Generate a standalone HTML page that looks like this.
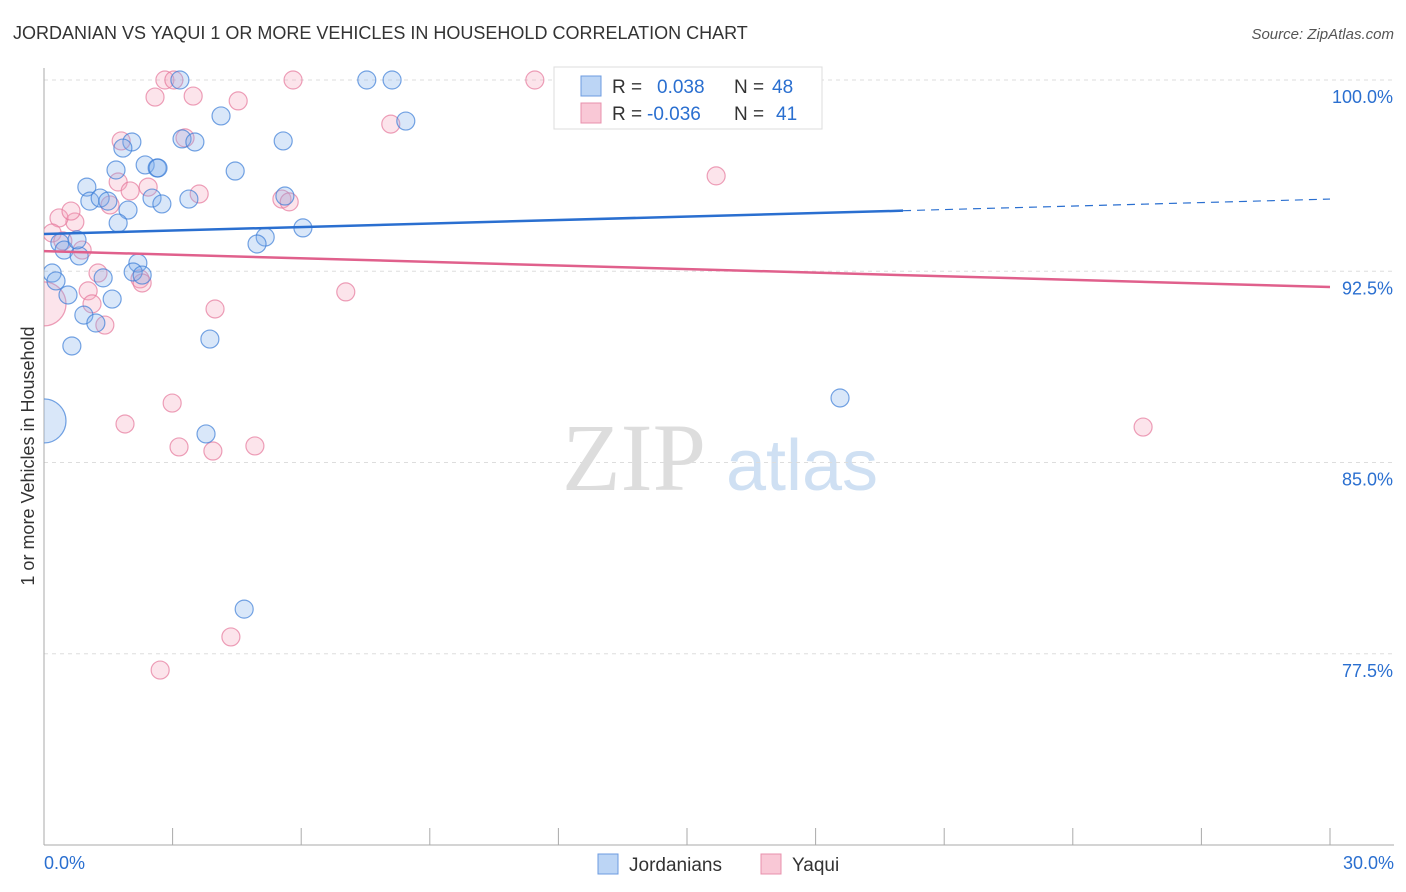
<!DOCTYPE html>
<html><head><meta charset="utf-8"><style>
body{margin:0;background:#fff;font-family:"Liberation Sans",sans-serif;}
svg{display:block}
</style></head><body>
<svg width="1406" height="892" xmlns="http://www.w3.org/2000/svg">
<defs><clipPath id="plotclip"><rect x="44" y="0" width="1362" height="845"/></clipPath></defs>
<text x="13" y="39" font-size="18" fill="#333">JORDANIAN VS YAQUI 1 OR MORE VEHICLES IN HOUSEHOLD CORRELATION CHART</text>
<text x="1394" y="39" font-size="15" fill="#555" font-style="italic" text-anchor="end">Source: ZipAtlas.com</text>
<text x="34" y="456" font-size="18" fill="#333" text-anchor="middle" transform="rotate(-90 34 456)">1 or more Vehicles in Household</text>
<g><text x="634" y="490" font-size="96" fill="#ddd" font-family="Liberation Serif" text-anchor="middle">ZIP</text><text x="802" y="490" font-size="72" fill="#cfe0f3" text-anchor="middle">atlas</text></g>
<g id="grid"></g><g id="axes"></g><g id="marks" clip-path="url(#plotclip)"></g>
<g>
<rect x="554" y="67" width="268" height="62" fill="#fff" stroke="#ddd"/>
<rect x="581" y="76" width="20" height="20" fill="#bcd5f5" stroke="#6c9be0"/>
<rect x="581" y="103" width="20" height="20" fill="#f9c8d6" stroke="#e890ac"/>
<text x="612" y="93" font-size="19" fill="#333">R = </text><text x="657" y="93" font-size="19" fill="#2a6fd0">0.038</text>
<text x="734" y="93" font-size="19" fill="#333">N = </text><text x="772" y="93" font-size="19" fill="#2a6fd0">48</text>
<text x="612" y="120" font-size="19" fill="#333">R = </text><text x="647" y="120" font-size="19" fill="#2a6fd0">-0.036</text>
<text x="734" y="120" font-size="19" fill="#333">N = </text><text x="776" y="120" font-size="19" fill="#2a6fd0">41</text>
</g>
<g>
<rect x="598" y="854" width="20" height="20" fill="#bcd5f5" stroke="#6c9be0"/><text x="629" y="871" font-size="19" fill="#333">Jordanians</text>
<rect x="761" y="854" width="20" height="20" fill="#f9c8d6" stroke="#e890ac"/><text x="792" y="871" font-size="19" fill="#333">Yaqui</text>
</g>
</svg>
<script>
const yTicks=[100,92.5,85,77.5];
const yTickLabels=["100.0%","92.5%","85.0%","77.5%"];
const xEndLabels=["0.0%","30.0%"];
const blueX=[3.17,7.53,8.12,4.13,8.44,3.22,3.52,5.58,2.05,1.84,2.36,1.68,2.64,2.66,4.46,1.00,1.07,1.31,1.49,1.96,2.52,2.75,3.38,5.62,1.73,6.04,5.16,4.97,0.37,0.47,0.82,0.77,0.19,0.28,1.38,2.19,2.08,2.29,0.56,1.59,0.93,1.21,3.87,0.65,18.57,3.78,4.67,0];
const blueY=[100,100,100,98.59,98.39,97.69,97.57,97.61,97.57,97.33,96.67,96.47,96.55,96.55,96.43,95.80,95.25,95.37,95.25,94.90,95.37,95.14,95.33,95.45,94.39,94.20,93.84,93.57,93.61,93.33,93.10,93.73,92.43,92.12,92.24,92.82,92.47,92.35,91.57,91.41,90.78,90.47,89.84,89.57,87.53,86.12,79.25,86.63];
const pinkX=[2.82,3.03,5.81,11.45,2.59,3.48,4.53,8.09,1.80,3.29,1.73,2.01,2.43,1.54,3.62,5.55,5.72,15.68,0.72,0.35,0.63,0.19,0.44,0.89,1.26,2.24,1.03,1.12,1.42,3.99,7.04,2.99,1.89,3.15,3.94,4.92,4.36,2.71,25.64,0,2.29];
const pinkY=[100,100,100,100,99.33,99.37,99.18,98.27,97.61,97.73,96.00,95.65,95.80,95.10,95.53,95.33,95.22,96.24,94.43,94.59,94.86,94.00,93.69,93.33,92.43,92.20,91.73,91.22,90.39,91.02,91.69,87.33,86.51,85.61,85.45,85.65,78.16,76.86,86.39,91.22,92.04];
const blueTrend=[93.96,95.33];const blueSolidEnd=20.04;
const pinkTrend=[93.29,91.88];
const NS="http://www.w3.org/2000/svg";
const X=v=>44+v/30*1286, Y=v=>80+(100-v)/30*765;
function mk(p,t,a){const e=document.createElementNS(NS,t);for(const k in a)e.setAttribute(k,a[k]);p.appendChild(e);return e;}
const grid=document.getElementById('grid'),axes=document.getElementById('axes'),marks=document.getElementById('marks');
yTicks.forEach((t,i)=>{const l=mk(grid,'line',{x1:44,x2:1394,y1:Y(t),y2:Y(t),stroke:'#ddd','stroke-dasharray':'4,4'});


const tx=mk(axes,'text',{x:1393,y:Y(t)+23,'font-size':18,fill:'#2a6fd0','text-anchor':'end'});tx.textContent=yTickLabels[i];

});
mk(axes,'line',{x1:44,x2:44,y1:68,y2:845,stroke:'#aaa'});
mk(axes,'line',{x1:44,x2:1394,y1:845,y2:845,stroke:'#aaa'});
for(let i=0;i<=10;i++){const t=mk(axes,'line',{x1:X(i*3),x2:X(i*3),y1:828,y2:845,stroke:'#aaa'});

}
[[0,'start',44],[30,'end',1394]].forEach((d,i)=>{const t=mk(axes,'text',{x:d[2],y:869,'font-size':18,fill:'#2a6fd0','text-anchor':d[1]});t.textContent=xEndLabels[i];

});
function dots(xs,ys,fill,stroke,name){xs.forEach((x,i)=>{const r=(x===0)?22:9;const c=mk(marks,'circle',{cx:X(x),cy:Y(ys[i]),r:r,fill:fill,stroke:stroke,'stroke-width':1.2});

});}
dots(pinkX,pinkY,'rgba(246,165,190,0.3)','rgba(230,120,155,0.7)','yaqui-point');
dots(blueX,blueY,'rgba(130,175,235,0.3)','rgba(60,125,215,0.7)','jordanian-point');
const bs=blueTrend[0]+(blueTrend[1]-blueTrend[0])*blueSolidEnd/30;
let l=mk(marks,'line',{x1:X(0),y1:Y(blueTrend[0]),x2:X(blueSolidEnd),y2:Y(bs),stroke:'#2a6fd0','stroke-width':2.5});


l=mk(marks,'line',{x1:X(blueSolidEnd),y1:Y(bs),x2:X(30),y2:Y(blueTrend[1]),stroke:'#2a6fd0','stroke-width':1.2,'stroke-dasharray':'8,6'});


l=mk(marks,'line',{x1:X(0),y1:Y(pinkTrend[0]),x2:X(30),y2:Y(pinkTrend[1]),stroke:'#e0608c','stroke-width':2.5});


</script>
</body></html>
